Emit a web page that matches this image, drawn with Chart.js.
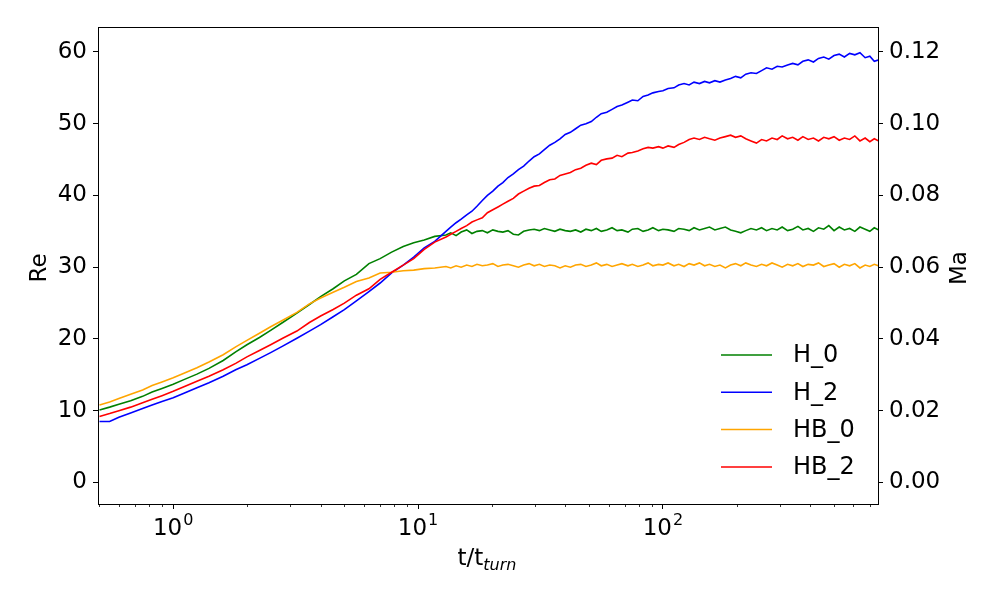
<!DOCTYPE html>
<html>
<head>
<meta charset="utf-8">
<script src="https://cdn.jsdelivr.net/npm/chart.js@4.4.0/dist/chart.umd.min.js"></script>
<style>
  html, body { margin: 0; padding: 0; background: #fff; }
  #wrap { width: 1000px; height: 600px; }
</style>
</head>
<body>
<div id="wrap"><canvas id="reChart" width="1000" height="600"></canvas></div>
<script>
// t / t_turn
var times = [
  0.5, 0.55, 0.6, 0.67, 0.75, 0.82, 0.9, 1.0, 1.1, 1.25,
  1.4, 1.6, 1.8, 2.0, 2.25, 2.5, 2.8, 3.2, 3.6, 4.0,
  4.5, 5.0, 5.6, 6.3, 7.0, 7.8, 8.7, 9.6, 10.6, 11.7,
  13, 13.6, 14.3, 15, 15.8, 16.6, 17.4, 18.3, 19.2, 20.2,
  21.2, 22.2, 23.3, 24.5, 25.7, 27, 28.4, 29.8, 31.3, 32.8,
  34.5, 36.2, 38, 39.9, 41.9, 44, 46.2, 48.5, 51, 53.5,
  56, 59, 62, 65, 68, 72, 75, 79, 83, 87,
  91, 96, 100, 105, 111, 116, 122, 128, 134, 141,
  148, 155, 163, 171, 180, 189, 198, 208, 218, 229,
  241, 253, 265, 279, 293, 307, 323, 339, 356, 373,
  392, 412, 432, 454, 476, 500, 525, 551, 579, 608,
  638, 670, 700, 730, 760
];

var h0 = [
  10.1, 10.5, 10.9, 11.4, 12.0, 12.6, 13.1, 13.7, 14.3, 15.1,
  15.9, 17.0, 18.2, 19.2, 20.2, 21.2, 22.3, 23.6, 24.8, 25.9,
  27.0, 28.1, 29.0, 30.5, 31.2, 32.1, 32.9, 33.4, 33.8, 34.3,
  34.5, 34.8, 34.4, 34.9, 35.2, 34.7, 35.0, 35.1, 34.8, 35.2,
  35.0, 34.9, 35.1, 34.6, 34.5, 35.0, 35.2, 35.3, 35.1, 35.4,
  35.2, 35.0, 35.3, 35.1, 35.0, 35.2, 34.9, 35.3, 35.1, 35.4,
  35.0, 35.2, 35.5, 35.1, 35.2, 34.9, 35.3, 35.4, 35.0, 35.2,
  35.5, 35.1, 35.3, 35.2, 35.0, 35.4, 35.3, 35.1, 35.5, 35.2,
  35.4, 35.6, 35.2, 35.4, 35.6, 35.2, 35.0, 34.8, 35.1, 35.4,
  35.2, 35.5, 35.1, 35.4, 35.2, 35.6, 35.1, 35.3, 35.7, 35.2,
  35.4, 35.0, 35.5, 35.3, 35.8, 35.1, 35.6, 35.2, 35.4, 35.0,
  35.6, 35.3, 35.0, 35.5, 35.2
];

var h2 = [
  8.5, 8.5, 9.1, 9.7, 10.3, 10.8, 11.3, 11.8, 12.4, 13.2,
  13.9, 14.8, 15.7, 16.4, 17.3, 18.1, 19.0, 20.1, 21.1, 22.0,
  23.1, 24.1, 25.3, 26.6, 27.8, 29.2, 30.3, 31.4, 32.7, 33.6,
  35.0, 35.6, 36.2, 36.7, 37.3, 37.8, 38.5, 39.3, 40.0, 40.6,
  41.3, 41.8, 42.5, 43.0, 43.6, 44.1, 44.8, 45.4, 45.8, 46.4,
  47.0, 47.4, 47.9, 48.5, 48.8, 49.3, 49.8, 50.0, 50.3, 50.9,
  51.4, 51.6, 52.0, 52.4, 52.6, 53.0, 53.3, 53.2, 53.8, 54.0,
  54.3, 54.5, 54.6, 54.9, 55.0, 55.4, 55.6, 55.4, 55.8, 55.6,
  55.9, 55.7, 56.0, 55.8, 56.1, 56.3, 56.6, 56.4, 56.9, 57.1,
  57.0, 57.4, 57.8, 57.6, 58.0, 57.9, 58.2, 58.4, 58.2, 58.7,
  58.9, 58.6, 59.1, 59.3, 59.0, 59.5, 59.7, 59.3, 59.8, 59.6,
  59.9, 59.2, 59.4, 58.7, 58.9
];

var hb0 = [
  10.8, 11.2, 11.7, 12.3, 12.9, 13.5, 14.0, 14.6, 15.2, 16.0,
  16.8, 17.8, 18.9, 19.8, 20.8, 21.7, 22.6, 23.7, 24.9, 25.7,
  26.5, 27.2, 28.0, 28.5, 29.2, 29.3, 29.5, 29.6, 29.8, 29.9,
  30.1, 29.9, 30.2, 30.0, 30.3, 30.1, 30.4, 30.2, 30.3, 30.5,
  30.1, 30.3, 30.4, 30.2, 30.0, 30.3, 30.5, 30.2, 30.4, 30.1,
  30.3, 30.2, 29.9, 30.2, 30.0, 30.3, 30.4, 30.1, 30.3, 30.6,
  30.2, 30.4, 30.1, 30.3, 30.5, 30.2, 30.4, 30.1, 30.3, 30.6,
  30.2, 30.4, 30.3, 30.6, 30.2, 30.4, 30.1, 30.5, 30.3, 30.6,
  30.2, 30.4, 30.1, 30.3, 29.9, 30.3, 30.5, 30.2, 30.6, 30.3,
  30.1, 30.4, 30.2, 30.6, 30.3, 30.0, 30.4, 30.2, 30.5, 30.1,
  30.4, 30.3, 30.6, 30.1, 30.3, 30.5, 30.0, 30.4, 30.2, 30.5,
  29.9, 30.3, 30.1, 30.4, 30.2
];

var hb2 = [
  9.2, 9.6, 10.0, 10.5, 11.1, 11.6, 12.1, 12.7, 13.3, 14.1,
  14.8, 15.7, 16.6, 17.5, 18.4, 19.2, 20.1, 21.1, 22.3, 23.2,
  24.1, 25.0, 26.1, 27.0, 28.3, 29.3, 30.3, 31.2, 32.5, 33.5,
  34.2, 34.6, 35.0, 35.4, 35.8, 36.3, 36.6, 36.9, 37.6, 38.0,
  38.4, 38.8, 39.2, 39.6, 40.2, 40.6, 41.0, 41.3, 41.4, 41.8,
  42.2, 42.3, 42.8, 43.0, 43.2, 43.6, 43.8, 44.2, 44.5, 44.3,
  44.9, 45.1, 45.2, 45.6, 45.4, 45.9, 46.0, 46.2, 46.5, 46.7,
  46.6, 46.8, 46.6, 46.9, 46.7, 47.1, 47.4, 47.8, 48.0, 47.8,
  48.1, 47.9, 47.7, 48.0, 48.2, 48.4, 48.1, 48.3, 47.9, 47.6,
  47.3, 47.8, 47.6, 48.0, 47.8, 48.3, 47.9, 48.1, 47.7, 48.2,
  47.8, 48.0, 47.6, 48.1, 47.9, 48.2, 47.7, 48.0, 47.8, 48.3,
  47.6, 48.0, 47.5, 47.9, 47.6
];

var seriesNames = ['H_0', 'H_2', 'HB_0', 'HB_2'];
var seriesColors = ['#008000', '#0000ff', '#ffa500', '#ff0000'];

var xMajorTicks = [1, 10, 100];
var xMajorExp = ['0', '1', '2'];
var xMinorTicks = [0.5, 0.6, 0.7, 0.8, 0.9, 2, 3, 4, 5, 6, 7, 8, 9,
  20, 30, 40, 50, 60, 70, 80, 90, 200, 300, 400, 500, 600, 700];

var reMin = -3.0, reMax = 63.48;
var maPerRe = 0.002;

var FONT = 'DejaVu Sans';

function pts(ys) {
  return times.map(function(t, i) { return { x: t, y: ys[i] }; });
}

// box, minor ticks, 10^n labels, axis titles and legend, drawn on top
var extras = {
  id: 'extras',
  afterDraw: function(chart) {
    var ctx = chart.ctx, a = chart.chartArea, xs = chart.scales.x;
    ctx.save();
    ctx.strokeStyle = '#000';
    ctx.lineWidth = 1;
    ctx.strokeRect(a.left + 0.5, a.top + 0.5, a.right - a.left, a.bottom - a.top);

    ctx.beginPath();
    xMinorTicks.forEach(function(v) {
      var px = Math.round(xs.getPixelForValue(v)) + 0.5;
      ctx.moveTo(px, a.bottom);
      ctx.lineTo(px, a.bottom + 3);
    });
    ctx.lineWidth = 0.8;
    ctx.stroke();

    ctx.fillStyle = '#000';
    ctx.textAlign = 'left';
    ctx.textBaseline = 'alphabetic';
    xMajorTicks.forEach(function(v, i) {
      var px = xs.getPixelForValue(v);
      ctx.font = '23px "' + FONT + '"';
      var wb = ctx.measureText('10').width;
      ctx.font = '16px "' + FONT + '"';
      var we = ctx.measureText(xMajorExp[i]).width;
      var x0 = px - (wb + we + 1) / 2;
      ctx.font = '23px "' + FONT + '"';
      ctx.fillText('10', x0, 535);
      ctx.font = '16px "' + FONT + '"';
      ctx.fillText(xMajorExp[i], x0 + wb + 1, 525);
    });

    ctx.textBaseline = 'middle';
    ctx.textAlign = 'center';
    ctx.font = '23px "' + FONT + '"';
    ctx.save();
    ctx.translate(40, 268);
    ctx.rotate(-Math.PI / 2);
    ctx.fillText('Re', 0, 0);
    ctx.restore();
    ctx.save();
    ctx.translate(960, 268);
    ctx.rotate(-Math.PI / 2);
    ctx.fillText('Ma', 0, 0);
    ctx.restore();

    // t/t_turn
    ctx.textAlign = 'left';
    ctx.textBaseline = 'alphabetic';
    ctx.font = '23px "' + FONT + '"';
    var w1 = ctx.measureText('t/t').width;
    ctx.font = 'italic 16px "' + FONT + '"';
    var w2 = ctx.measureText('turn').width;
    var x0 = 487 - (w1 + w2) / 2;
    ctx.font = '23px "' + FONT + '"';
    ctx.fillText('t/t', x0, 565);
    ctx.font = 'italic 16px "' + FONT + '"';
    ctx.fillText('turn', x0 + w1, 570);

    // legend
    ctx.font = '24px "' + FONT + '"';
    ctx.textBaseline = 'middle';
    chart.data.datasets.forEach(function(ds, i) {
      var y = 355 + i * 37.3;
      ctx.strokeStyle = ds.borderColor;
      ctx.lineWidth = 1.5;
      ctx.beginPath();
      ctx.moveTo(721, y);
      ctx.lineTo(772, y);
      ctx.stroke();
      ctx.fillText(ds.label, 793, y + 1);
    });
    ctx.restore();
  }
};

var axisGrid = { drawOnChartArea: false, drawTicks: true, tickLength: 5, tickColor: '#000', tickWidth: 1 };
var axisBorder = { display: true, color: '#000', width: 1 };

new Chart(document.getElementById('reChart'), {
  type: 'line',
  data: {
    datasets: [h0, h2, hb0, hb2].map(function(ys, i) {
      return {
        label: seriesNames[i],
        data: pts(ys),
        borderColor: seriesColors[i],
        backgroundColor: seriesColors[i],
        borderWidth: 1.6,
        pointRadius: 0,
        tension: 0,
        fill: false,
        order: 3 - i
      };
    })
  },
  options: {
    responsive: false,
    animation: false,
    events: [],
    layout: { padding: { top: 27, left: 0, right: 0, bottom: 0 } },
    plugins: { legend: { display: false }, tooltip: { enabled: false } },
    scales: {
      x: {
        type: 'logarithmic',
        min: 0.493,
        max: 756,
        grid: axisGrid,
        border: axisBorder,
        afterBuildTicks: function(scale) {
          scale.ticks = xMajorTicks.map(function(v) { return { value: v, major: true }; });
        },
        afterFit: function(scale) { scale.height = 96; },
        ticks: {
          autoSkip: false,
          maxRotation: 0,
          padding: 5,
          color: '#000',
          font: { family: FONT, size: 23 },
          callback: function() { return ''; }
        }
      },
      y: {
        position: 'left',
        min: reMin,
        max: reMax,
        grid: axisGrid,
        border: axisBorder,
        afterFit: function(scale) { scale.width = 98; },
        ticks: {
          stepSize: 10,
          includeBounds: false,
          padding: 6,
          color: '#000',
          font: { family: FONT, size: 23 }
        }
      },
      ma: {
        position: 'right',
        min: reMin * maPerRe,
        max: reMax * maPerRe,
        grid: axisGrid,
        border: axisBorder,
        afterFit: function(scale) { scale.width = 122; },
        ticks: {
          stepSize: 0.02,
          includeBounds: false,
          padding: 6,
          color: '#000',
          font: { family: FONT, size: 23 },
          callback: function(v) { return Math.abs(v).toFixed(2); }
        }
      }
    }
  },
  plugins: [extras]
});
</script>
</body>
</html>
